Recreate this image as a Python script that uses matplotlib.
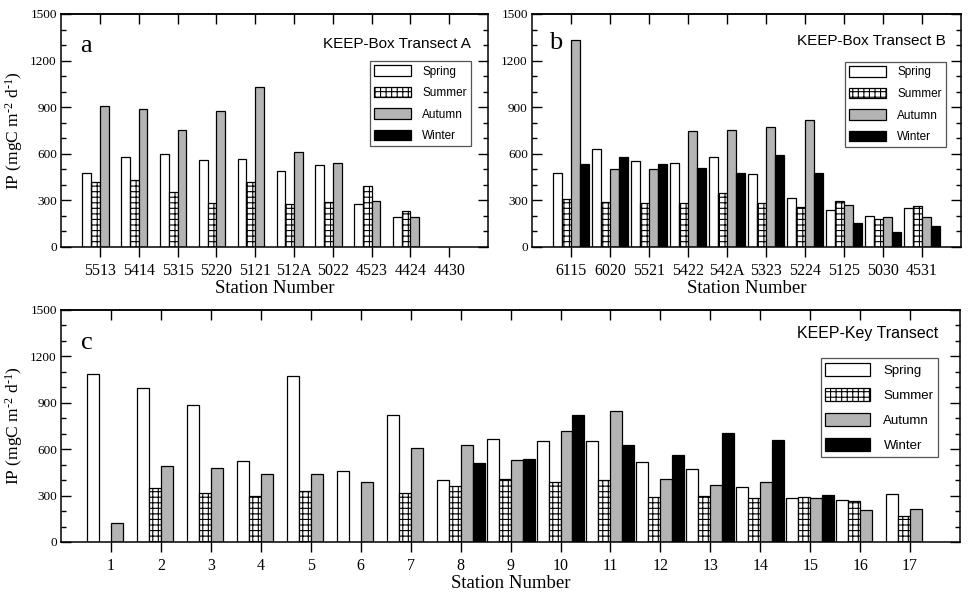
import numpy as np
import matplotlib
matplotlib.use("Agg")
import matplotlib.pyplot as plt
from matplotlib.ticker import MultipleLocator

plt.rcParams["hatch.linewidth"] = 0.8
plt.rcParams["font.family"] = "Liberation Serif"
plt.rcParams["mathtext.fontset"] = "custom"
plt.rcParams["mathtext.rm"] = "Liberation Serif"
plt.rcParams["mathtext.it"] = "Liberation Serif:italic"
plt.rcParams["mathtext.bf"] = "Liberation Serif:bold"

nan = np.nan
seasons = ["Spring", "Summer", "Autumn", "Winter"]

# KEEP-Box Transect A
stations_a = ["5513", "5414", "5315", "5220", "5121", "512A", "5022", "4523", "4424", "4430"]
spring_a = [476, 579, 601, 560, 566, 487, 526, 277, 193, nan]
summer_a = [416, 429, 356, 283, 421, 275, 290, 395, 234, nan]
autumn_a = [908, 890, 753, 878, 1032, 612, 543, 294, 193, nan]
winter_a = [nan, nan, nan, nan, nan, nan, nan, nan, nan, nan]

# KEEP-Box Transect B
stations_b = ["6115", "6020", "5521", "5422", "542A", "5323", "5224", "5125", "5030", "4531"]
spring_b = [479, 629, 554, 543, 579, 468, 315, 240, 200, 251]
summer_b = [311, 290, 283, 283, 345, 283, 255, 294, 182, 264]
autumn_b = [1335, 500, 500, 745, 753, 770, 815, 268, 195, 191]
winter_b = [534, 582, 536, 506, 476, 590, 474, 152, 94, 135]

# KEEP-Key Transect
stations_c = [str(i) for i in range(1, 18)]
spring_c = [1085, 998, 884, 525, 1074, 458, 818, 400, 665, 650, 652, 519, 473, 355, 282, 273, 310]
summer_c = [nan, 351, 316, 297, 327, nan, 316, 359, 407, 389, 402, 293, 297, 282, 288, 267, 168]
autumn_c = [123, 488, 480, 439, 439, 389, 605, 630, 527, 717, 848, 407, 368, 385, 282, 209, 215]
winter_c = [nan, nan, nan, nan, nan, nan, nan, 510, 538, 824, 626, 560, 706, 658, 301, nan, nan]

styles = [
    dict(facecolor="white", edgecolor="black", hatch=None),
    dict(facecolor="white", edgecolor="black", hatch="+++"),
    dict(facecolor="#b4b4b4", edgecolor="black", hatch=None),
    dict(facecolor="black", edgecolor="black", hatch=None),
]

YLABEL = r"IP (mgC m$^{\text{-2}}$ d$^{\text{-1}}$)"

fig = plt.figure(figsize=(9.69, 5.95), dpi=100)
ax_a = fig.add_axes([0.063, 0.5849, 0.4407, 0.3916])
ax_b = fig.add_axes([0.549, 0.5849, 0.4427, 0.3916])
ax_c = fig.add_axes([0.063, 0.0891, 0.9278, 0.390])


def draw_panel(ax, labels, series, x0, width, xlim, letter, title, leg_anchor,
               title_xy, letter_xy, leg_fs, handlelen, handleh, lspace, title_fs,
               ylabel=True):
    x = np.arange(len(labels)) + x0
    offsets = [-1.5, -0.5, 0.5, 1.5]
    handles = []
    for vals, off, st, name in zip(series, offsets, styles, seasons):
        v = np.asarray(vals, dtype=float)
        ok = ~np.isnan(v)
        ax.bar(x[ok] + off * width, v[ok], width=width, linewidth=0.9, **st)
        handles.append(plt.Rectangle((0, 0), 1, 1, linewidth=0.9, label=name, **st))
    ax.set_xlim(*xlim)
    ax.set_ylim(0, 1500)
    ax.set_xticks(x)
    ax.set_xticklabels(labels)
    ax.yaxis.set_major_locator(MultipleLocator(300))
    ax.yaxis.set_minor_locator(MultipleLocator(100))
    ax.tick_params(axis="y", which="both", direction="in", left=True, right=True,
                   width=1.0, labelsize=9.5, pad=3)
    ax.tick_params(axis="y", which="major", length=7)
    ax.tick_params(axis="y", which="minor", length=3.5)
    ax.tick_params(axis="x", which="major", direction="out", length=7.5, width=1.0,
                   labelsize=11.5, pad=4)
    top = ax.secondary_xaxis("top")
    top.set_xticks(x)
    top.tick_params(direction="in", length=7.5, width=1.0, labeltop=False)
    top.spines["top"].set_linewidth(1.1)
    for sp in ax.spines.values():
        sp.set_linewidth(1.1)
    ax.set_xlabel("Station Number", fontsize=13.5, labelpad=1)
    if ylabel:
        ax.set_ylabel(YLABEL, fontsize=12.5, labelpad=4)
    ax.text(*letter_xy, letter, transform=ax.transAxes, fontsize=19,
            va="baseline", ha="left")
    ax.text(*title_xy, title, transform=ax.transAxes, fontsize=title_fs,
            family="Liberation Sans", ha="right", va="center")
    leg = ax.legend(handles=handles, loc="upper right", bbox_to_anchor=leg_anchor,
                    borderaxespad=0, fancybox=False, framealpha=1,
                    edgecolor="#555555", handlelength=handlelen,
                    handleheight=handleh, labelspacing=lspace, handletextpad=1.0,
                    borderpad=0.35, prop=dict(family="Liberation Sans", size=leg_fs))
    leg.get_frame().set_linewidth(0.9)


draw_panel(ax_a, stations_a, [spring_a, summer_a, autumn_a, winter_a], 0, 0.225,
           (-1, 10), "a", "KEEP-Box Transect A", (0.960, 0.798), (0.960, 0.871),
           (0.045, 0.835), 8.5, 3.1, 1.0, 0.78, 11)
draw_panel(ax_b, stations_b, [spring_b, summer_b, autumn_b, winter_b], 0, 0.235,
           (-1, 10), "b", "KEEP-Box Transect B", (0.965, 0.794), (0.965, 0.884),
           (0.04, 0.848), 8.5, 3.1, 1.0, 0.78, 11, ylabel=False)
draw_panel(ax_c, stations_c, [spring_c, summer_c, autumn_c, winter_c], 1, 0.24,
           (0, 18), "c", "KEEP-Key Transect", (0.9755, 0.793), (0.9755, 0.897),
           (0.022, 0.83), 9.5, 3.4, 1.15, 0.85, 11.5)

fig.savefig("out.png", dpi=100)
